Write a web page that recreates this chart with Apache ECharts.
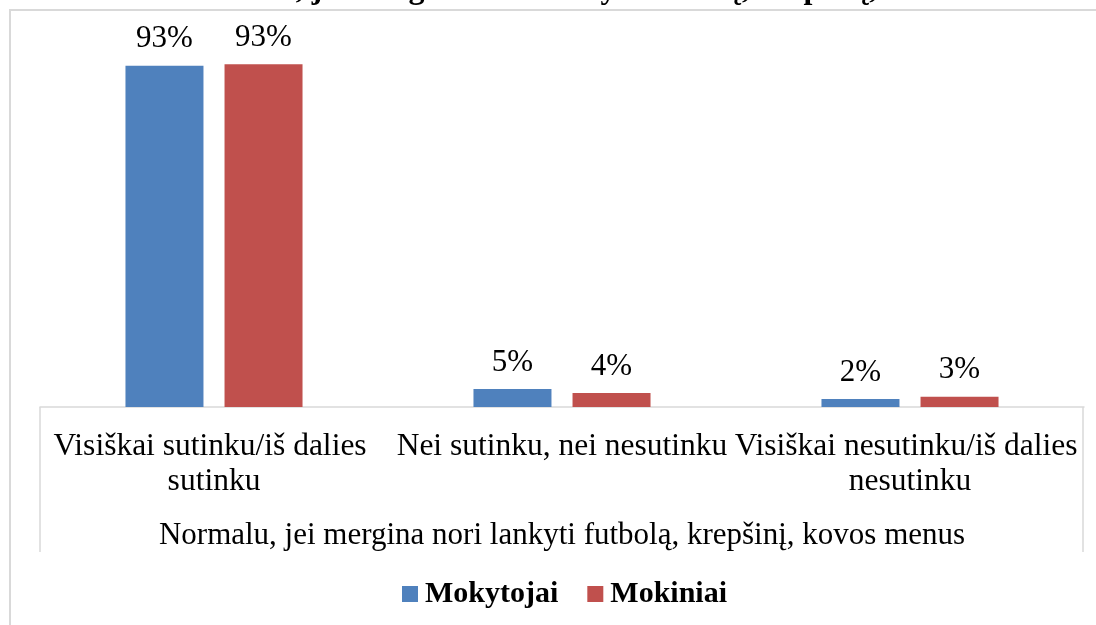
<!DOCTYPE html>
<html>
<head>
<meta charset="utf-8">
<script src="https://cdn.jsdelivr.net/npm/echarts@6/dist/echarts.min.js"></script>
<style>
  html, body { margin: 0; padding: 0; background: #fff; }
  #chart { width: 1096px; height: 625px; }
</style>
</head>
<body>
<div id="chart"></div>
<script>
  // duomenys
  var categories = ['Visiškai sutinku/iš dalies sutinku', 'Nei sutinku, nei nesutinku', 'Visiškai nesutinku/iš dalies nesutinku'];
  var groupName = 'Normalu, jei mergina nori lankyti futbolą, krepšinį, kovos menus';
  var seriesNames = ['Mokytojai', 'Mokiniai'];
  var mokytojai = [93, 4.9, 2.2];
  var mokiniai = [93.4, 3.8, 2.8];

  var font = 'Liberation Serif';
  var chart = echarts.init(document.getElementById('chart'));

  var labelStyle = {
    show: true,
    position: 'top',
    distance: 11,
    fontFamily: font,
    fontSize: 31,
    color: '#000',
    formatter: function (p) { return Math.round(p.value) + '%'; }
  };

  var option = {
    animation: false,
    title: {
      text: groupName,
      left: 168,
      top: -31,
      textStyle: { fontFamily: font, fontSize: 32, fontWeight: 'bold', color: '#000' }
    },
    color: ['#4f81bd', '#c0504d'],
    grid: { left: 40, right: 12, top: 40, bottom: 218, outerBoundsMode: 'none', containLabel: false },
    legend: {
      data: seriesNames,
      left: 397,
      top: 574,
      icon: 'rect',
      itemWidth: 16,
      itemHeight: 16,
      itemGap: 29,
      textStyle: { fontFamily: font, fontSize: 30, fontWeight: 'bold', color: '#000', padding: [0, 0, 0, 2] }
    },
    xAxis: {
      type: 'category',
      data: categories,
      name: groupName,
      nameLocation: 'middle',
      nameGap: 113,
      nameTextStyle: { fontFamily: font, fontSize: 31, color: '#000' },
      axisLine: { lineStyle: { color: '#d9d9d9', width: 1.5 } },
      axisTick: { show: false },
      axisLabel: {
        interval: 0,
        margin: 22,
        fontFamily: font,
        fontSize: 31.5,
        lineHeight: 35,
        color: '#000',
        width: 400,
        overflow: 'break'
      }
    },
    yAxis: {
      type: 'value',
      min: 0,
      max: 100,
      show: false
    },
    graphic: [
      { type: 'rect', shape: { x: 10, y: 10, width: 1200, height: 700 }, style: { fill: 'none', stroke: '#d9d9d9', lineWidth: 2 }, silent: true },
      { type: 'line', shape: { x1: 40, y1: 407, x2: 40, y2: 552 }, style: { stroke: '#d9d9d9', lineWidth: 1.5 }, silent: true },
      { type: 'line', shape: { x1: 1083, y1: 407, x2: 1083, y2: 552 }, style: { stroke: '#d9d9d9', lineWidth: 1.5 }, silent: true }
    ],
    series: [
      {
        name: seriesNames[0],
        type: 'bar',
        data: mokytojai,
        barWidth: 78,
        barGap: '27%',
        label: labelStyle
      },
      {
        name: seriesNames[1],
        type: 'bar',
        data: mokiniai,
        barWidth: 78,
        label: labelStyle
      }
    ]
  };

  chart.setOption(option);
</script>
</body>
</html>
